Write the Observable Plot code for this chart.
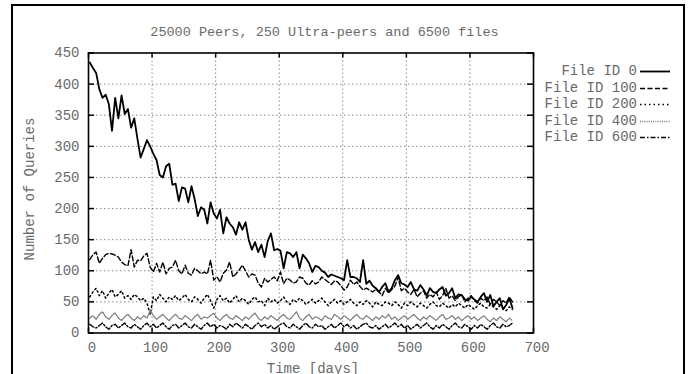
<!DOCTYPE html>
<html>
<head>
<meta charset="utf-8">
<script src="https://cdn.jsdelivr.net/npm/d3@7"></script>
<script src="https://cdn.jsdelivr.net/npm/@observablehq/plot@0.6"></script>
<style>
  html, body { margin: 0; padding: 0; background: #fff; }
  #page {
    position: relative; width: 690px; height: 374px; overflow: hidden;
    font-family: "Liberation Mono", "Courier New", monospace; color: #6a6a6a;
  }
  #box {
    position: absolute; left: 11px; top: 4px; width: 674px; height: 420px;
    border: 2px solid #000; box-sizing: border-box;
  }
  #chart { position: absolute; left: 0; top: 0; }
  #title {
    position: absolute; left: 102px; width: 445px; top: 24px;
    text-align: center; font-size: 13.5px; line-height: 18px; white-space: pre;
  }
  .leg-row { position: absolute; height: 16px; }
  .leg-text {
    position: absolute; right: 53px; top: 0; font-size: 14px; line-height: 16px;
    white-space: pre; text-align: right;
  }
  .leg-swatch { position: absolute; left: 640px; top: 0; }
</style>
</head>
<body>
<div id="page">
  <div id="box"></div>
  <div id="chart"></div>
  <div id="title">25000 Peers, 250 Ultra-peers and 6500 files</div>
  <div id="legend"></div>
</div>
<script>
// Query counts per file, sampled every 5 days starting at day 2
const firstDay = 2;
const stepDays = 5;

const seriesNames = ["File ID 0", "File ID 100", "File ID 200", "File ID 400", "File ID 600"];

const file0 = [
  435,426,418,392,378,383,368,325,378,345,
  382,352,360,330,345,312,282,296,310,300,
  288,278,254,250,268,272,238,240,212,234,
  232,210,236,215,188,202,198,176,210,192,
  184,198,160,186,176,170,158,178,166,178,
  150,134,146,130,142,122,148,160,133,135,
  132,104,130,128,122,130,104,126,120,112,
  98,108,106,100,97,90,94,92,90,88,
  85,117,90,90,88,82,117,79,84,76,
  72,66,74,80,66,72,85,93,80,78,
  74,82,70,68,77,70,60,72,66,64,
  70,74,60,64,72,56,62,61,54,52,
  58,54,50,58,64,50,61,43,50,56,
  38,45,56,40
];

const file100 = [
  118,126,130,112,120,126,128,127,125,122,
  114,110,108,134,106,117,116,124,128,106,
  98,112,98,114,95,104,106,117,100,95,
  109,96,93,104,100,95,98,95,117,85,
  90,82,96,101,114,90,95,101,109,100,
  90,95,93,80,74,88,82,86,90,84,
  98,79,88,85,80,82,90,88,80,77,
  84,79,82,90,86,82,78,84,82,76,
  69,74,85,78,82,75,69,72,69,66,
  70,66,60,72,64,70,75,90,68,72,
  66,62,70,58,64,68,56,62,58,66,
  54,60,72,56,60,52,58,62,50,56,
  60,52,48,56,52,58,46,54,50,44,
  52,48,58,50
];

const file200 = [
  58,66,72,60,68,56,64,70,58,62,
  68,56,60,54,62,58,52,56,48,30,
  58,52,62,56,50,58,54,60,52,56,
  62,54,50,58,54,48,56,62,52,40,
  54,60,52,56,48,54,60,50,56,52,
  46,54,58,50,52,44,56,50,54,48,
  52,58,50,46,54,50,56,52,46,50,
  54,48,52,56,50,44,50,54,48,52,
  46,50,54,48,44,50,46,52,48,42,
  50,46,44,50,48,44,50,46,40,48,
  44,50,46,42,48,44,40,46,50,44,
  42,48,44,40,46,42,48,44,40,46,
  42,38,44,48,42,40,46,42,38,44,
  40,36,42,38
];

const file400 = [
  24,28,22,30,34,26,22,28,32,24,
  20,26,30,24,20,26,22,28,24,36,
  28,22,26,30,24,20,26,30,24,22,
  28,24,20,26,30,22,26,24,28,32,
  24,20,26,30,24,22,28,24,20,26,
  22,28,32,24,20,26,22,28,24,20,
  26,30,24,22,28,34,24,20,26,30,
  22,26,24,20,28,24,22,30,26,22,
  28,24,20,26,30,24,22,28,24,20,
  26,22,28,24,30,22,26,20,24,28,
  22,26,30,24,20,26,22,28,24,20,
  26,30,22,24,28,22,26,20,24,28,
  22,26,20,24,28,22,18,24,20,26,
  22,18,24,20
];

const file600 = [
  14,10,8,12,16,10,6,12,14,8,
  12,16,10,8,14,10,6,12,16,10,
  14,8,12,16,10,6,12,14,8,12,
  16,10,8,14,10,6,12,16,10,14,
  8,12,10,6,14,10,16,12,8,14,
  10,6,12,16,10,14,8,12,6,10,
  14,16,10,8,14,10,6,12,16,10,
  8,14,10,12,6,10,14,8,12,16,
  10,14,8,12,6,10,14,16,10,8,
  12,6,10,14,8,12,16,10,14,8,
  12,6,10,14,8,12,16,10,6,12,
  8,14,10,6,12,16,10,8,14,10,
  6,12,8,14,10,6,12,16,10,8,
  14,10,12,16
];

const xTicks = [0, 100, 200, 300, 400, 500, 600, 700];
const yTicks = [0, 50, 100, 150, 200, 250, 300, 350, 400, 450];

// Line style for each file, in legend order
const styles = [
  {stroke: "#000", strokeWidth: 1.8, strokeDasharray: null},
  {stroke: "#000", strokeWidth: 1.4, strokeDasharray: "5,2.5"},
  {stroke: "#000", strokeWidth: 1.5, strokeDasharray: "1.5,3"},
  {stroke: "#7a7a7a", strokeWidth: 1.3, strokeDasharray: "1,1.2"},
  {stroke: "#000", strokeWidth: 1.4, strokeDasharray: "5,2,1.5,2"}
];

const seriesValues = [file0, file100, file200, file400, file600];
const series = seriesValues.map((vals, s) =>
  vals.map((v, i) => ({file: seriesNames[s], day: firstDay + i * stepDays, queries: v}))
);

const font = '"Liberation Mono", "Courier New", monospace';
const textGray = "#6a6a6a";
const gridStyle = {stroke: "#8a8a8a", strokeOpacity: 1, strokeWidth: 1, strokeDasharray: "1.5,2.5"};

const lineMarks = series.map((data, s) => {
  const st = styles[s];
  const opts = {x: "day", y: "queries", stroke: st.stroke, strokeWidth: st.strokeWidth, strokeLinejoin: "round"};
  if (st.strokeDasharray) opts.strokeDasharray = st.strokeDasharray;
  return Plot.line(data, opts);
});

const chart = Plot.plot({
  width: 690,
  height: 374,
  marginLeft: 88,
  marginRight: 157,
  marginTop: 52.5,
  marginBottom: 41.5,
  style: {fontFamily: font, fontSize: "14px", color: "#000", background: "transparent", overflow: "visible"},
  x: {domain: [0, 700]},
  y: {domain: [0, 450]},
  marks: [
    Plot.gridX(xTicks.slice(1, -1), gridStyle),
    Plot.gridY(yTicks.slice(1, -1), gridStyle),
    ...lineMarks.slice(1),
    lineMarks[0],
    // inward tick marks on all four sides of the frame
    Plot.tickX(xTicks, {x: d => d, insetTop: 275, stroke: "#000", strokeWidth: 1.5}),
    Plot.tickX(xTicks, {x: d => d, insetBottom: 275, stroke: "#000", strokeWidth: 1.5}),
    Plot.tickY(yTicks, {y: d => d, insetRight: 439, stroke: "#000", strokeWidth: 1.5}),
    Plot.tickY(yTicks, {y: d => d, insetLeft: 439, stroke: "#000", strokeWidth: 1.5}),
    Plot.frame({stroke: "#000", strokeWidth: 1.6}),
    Plot.axisX(xTicks, {anchor: "bottom", tickSize: 0, tickPadding: 9, dx: 3.5, label: null, fill: textGray, fontSize: 14}),
    Plot.axisY(yTicks, {anchor: "left", tickSize: 0, tickPadding: 9, label: null, fill: textGray, fontSize: 14}),
    Plot.text(["Time [days]"], {text: d => d, frameAnchor: "bottom", dy: 40, dx: 2, textAnchor: "middle", fill: textGray, fontSize: 14}),
    Plot.text(["Number of Queries"], {text: d => d, frameAnchor: "left", dx: -59, dy: -4, textAnchor: "middle", rotate: -90, fill: textGray, fontSize: 14})
  ]
});
document.getElementById("chart").appendChild(chart);

// Legend: label on the left, line sample on the right
const legend = document.getElementById("legend");
const rowTops = [63, 79.5, 96, 112.5, 129];
seriesNames.forEach((name, s) => {
  const row = document.createElement("div");
  row.className = "leg-row";
  row.style.left = "0px";
  row.style.width = "690px";
  row.style.top = rowTops[s] + "px";
  const label = document.createElement("div");
  label.className = "leg-text";
  label.textContent = name;
  row.appendChild(label);
  const st = styles[s];
  const svg = d3.create("svg").attr("class", "leg-swatch").attr("width", 31).attr("height", 16);
  svg.append("line")
    .attr("x1", 0).attr("x2", 30).attr("y1", 8.5).attr("y2", 8.5)
    .attr("stroke", st.stroke).attr("stroke-width", st.strokeWidth)
    .attr("stroke-dasharray", st.strokeDasharray);
  row.appendChild(svg.node());
  legend.appendChild(row);
});
</script>
</body>
</html>
